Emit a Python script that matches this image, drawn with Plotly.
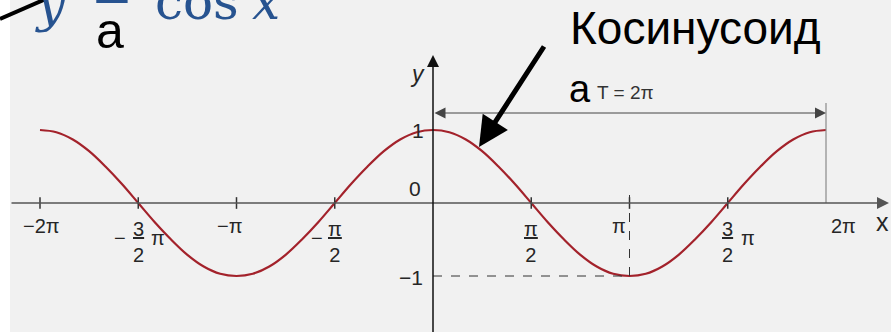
import plotly.graph_objects as go

W, H = 891, 332

# cosine curve (x in units of pi, step pi/12)
x_pi = [-2, -1.917, -1.833, -1.75, -1.667, -1.583, -1.5, -1.417, -1.333, -1.25, -1.167, -1.083,
        -1, -0.917, -0.833, -0.75, -0.667, -0.583, -0.5, -0.417, -0.333, -0.25, -0.167, -0.083,
        0, 0.083, 0.167, 0.25, 0.333, 0.417, 0.5, 0.583, 0.667, 0.75, 0.833, 0.917,
        1, 1.083, 1.167, 1.25, 1.333, 1.417, 1.5, 1.583, 1.667, 1.75, 1.833, 1.917, 2]
y_cos = [1, 0.97, 0.87, 0.71, 0.5, 0.26, 0, -0.26, -0.5, -0.71, -0.87, -0.97,
         -1, -0.97, -0.87, -0.71, -0.5, -0.26, 0, 0.26, 0.5, 0.71, 0.87, 0.97,
         1, 0.97, 0.87, 0.71, 0.5, 0.26, 0, -0.26, -0.5, -0.71, -0.87, -0.97,
         -1, -0.97, -0.87, -0.71, -0.5, -0.26, 0, 0.26, 0.5, 0.71, 0.87, 0.97, 1]

tick_vals = [-2, -1.5, -1, -0.5, 0.5, 1, 1.5, 2]
tick_labels = ["−2π", "−3/2 π", "−π", "−π/2", "π/2", "π", "3/2 π", "2π"]
y_tick_vals = [1, 0, -1]
y_tick_labels = ["1", "0", "−1"]
period = [0, 2]
period_label = "T = 2π"
formula_parts = ["<i>y</i>", "=", "cos", "<i>x</i>"]
caption_lines = ["Косинусоид", "а"]

# pixel geometry of the original drawing
X0_PX, PX_PI = 433, 196.5
Y0_PX, PX_UNIT = 203, 73


def dx(px):
    return (px - X0_PX) / PX_PI


def dy(py):
    return (Y0_PX - py) / PX_UNIT


SANS = "Liberation Sans, Arial, sans-serif"
SERIF = "DejaVu Serif, serif"
INK = "#262626"

annotations = []
shapes = []


def text_px(text, xp, yp, size, color=INK, family=SANS, xanchor="center"):
    annotations.append(dict(text=text, x=xp / W, y=1 - yp / H, xref="paper", yref="paper",
                            xanchor=xanchor, yanchor="middle", showarrow=False,
                            font=dict(family=family, size=size, color=color)))


def arrow(x1, y1, x0, y0, color, width, size, head=2, both=False):
    annotations.append(dict(text="", x=x1, y=y1, ax=x0, ay=y0, xref="x", yref="y",
                            axref="x", ayref="y", showarrow=True, arrowhead=head,
                            startarrowhead=head, arrowside="end+start" if both else "end",
                            arrowwidth=width, arrowsize=size, startarrowsize=size,
                            arrowcolor=color, standoff=0, startstandoff=0))


# white strip on the left edge
shapes.append(dict(type="rect", xref="paper", yref="paper", x0=0, x1=10 / W, y0=0, y1=1,
                   fillcolor="white", line=dict(width=0), layer="above"))
# pointer line coming in from the top-left corner
shapes.append(dict(type="line", xref="paper", yref="paper", x0=0, y0=1 - 19 / H,
                   x1=48 / W, y1=1 + 2 / H, line=dict(color="black", width=4), layer="above"))

# axes
arrow(dx(889), 0, dx(10), 0, "#555555", 1.5, 1.6)
arrow(0, dy(55), 0, dy(340), "#111111", 1.5, 1.6)

# tick marks
for v in tick_vals[:-1]:
    shapes.append(dict(type="line", x0=v, x1=v, y0=-0.08, y1=0.08,
                       line=dict(color="#333333", width=1.5)))
shapes.append(dict(type="line", x0=2, x1=2, y0=0, y1=dy(103), line=dict(color="#8a8a8a", width=1.2)))

# dashed guides to the minimum at x = pi
shapes.append(dict(type="line", x0=1, x1=1, y0=-1, y1=dy(195),
                   line=dict(color="#333333", width=1, dash="dash")))
shapes.append(dict(type="line", x0=0, x1=1, y0=-1, y1=-1,
                   line=dict(color="#333333", width=1, dash="dash")))

# period arrow
arrow(period[1], dy(113), period[0], dy(113), "#444444", 1, 2.2, both=True)
text_px(period_label, 595, 93, 19, color="#333333", xanchor="left")

# x tick labels
label_shift = {"−2π": 1, "−π": -7, "π": -11, "2π": 17}
for v, lab in zip(tick_vals, tick_labels):
    font = dict(family=SANS, size=20, color=INK)
    if "/" in lab:
        pre = "−" if lab.startswith("−") else ""
        num, rest = lab[len(pre):].split("/")
        den, _, suf = rest.partition(" ")
        annotations.append(dict(text=f"<u>{num}</u><br>{den}", x=v, y=dy(242), xref="x", yref="y",
                                showarrow=False, align="center", font=font))
        if pre:
            annotations.append(dict(text=pre, x=v, y=dy(238), xref="x", yref="y", xanchor="right",
                                    xshift=-10, showarrow=False, font=font))
        if suf:
            annotations.append(dict(text=suf, x=v, y=dy(238), xref="x", yref="y", xanchor="left",
                                    xshift=11, showarrow=False, font=font))
    else:
        annotations.append(dict(text=lab, x=v, y=dy(226), xref="x", yref="y",
                                xshift=label_shift.get(lab, 0), showarrow=False, font=font))

# y tick labels and axis names
y_label_px = {"1": (418, 130), "0": (415, 188), "−1": (411, 277)}
for v, lab in zip(y_tick_vals, y_tick_labels):
    xp, yp = y_label_px[lab]
    text_px(lab, xp, yp, 21)
text_px("<i>y</i>", 417, 74, 23)
text_px("x", 882, 222, 25)

# formula at the top-left (cut by the page edge)
for part, xp, yp in zip(formula_parts, [50, 112, 197, 266], [4, -5, 2, 2]):
    text_px(part, xp, yp, 50, color="#275390", family=SERIF)
text_px("а", 110, 31, 50, color="black")

# caption with a thick pointer
text_px(caption_lines[0], 568, 28, 46, color="black", xanchor="left")
text_px(caption_lines[1], 567, 89, 38, color="black", xanchor="left")
annotations.append(dict(text="", x=dx(479), y=dy(147), xref="x", yref="y", ax=66, ay=-102,
                        showarrow=True, arrowhead=2, arrowwidth=5, arrowsize=1.2,
                        arrowcolor="black", standoff=0))

curve = go.Scatter(x=x_pi, y=y_cos, mode="lines", line=dict(color="#a3222b", width=2.2, shape="spline"),
                   hoverinfo="skip")

fig = go.Figure(curve)
fig.update_layout(
    width=W, height=H,
    margin=dict(l=0, r=0, t=0, b=0),
    paper_bgcolor="#f1f1f1", plot_bgcolor="#f1f1f1",
    showlegend=False,
    xaxis=dict(range=[dx(0), dx(W)], visible=False, fixedrange=True),
    yaxis=dict(range=[dy(H), dy(0)], visible=False, fixedrange=True),
    shapes=shapes, annotations=annotations,
)
fig.write_html("out.html", config=dict(displayModeBar=False),
               post_script="document.body.style.margin='0';")
